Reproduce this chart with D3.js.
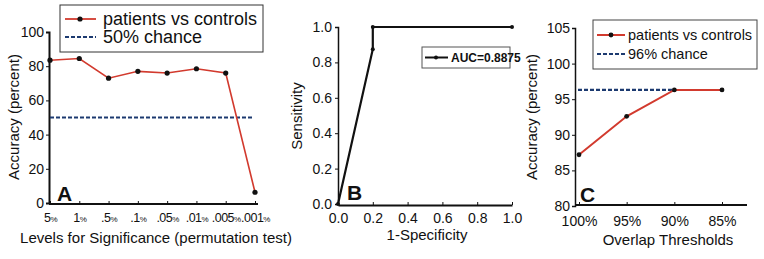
<!DOCTYPE html>
<html lang="en">
    <head>
        <meta charset="utf-8">
        <title>Accuracy / ROC / Overlap</title>
        <script src="https://d3js.org/d3.v7.min.js"></script>
        <style type="text/css">
            body { margin: 0; background: white; }
            text { font-family: "Liberation Sans", Arial, sans-serif; fill: #111; }
            .tick text { font-size: 14px; }
            .axis path, .axis line { stroke: #111; }
        </style>
    </head>
    <body>
        <svg width="764" height="259"></svg>
        <script type="text/javascript">

            // panel A
            const sigLevels = ["5", "1", ".5", ".1", ".05", ".01", ".005", ".001"];
            const sigAccuracy = [83.5, 84.5, 73, 77, 76, 78.5, 76, 6.3];
            const chanceA = 50;
            const ticksA = [0, 20, 40, 60, 80, 100];

            // panel B
            const rocFpr = [0, 0.2, 0.2, 1];
            const rocTpr = [0, 0.875, 1, 1];
            const ticksB = [0, 0.2, 0.4, 0.6, 0.8, 1.0];

            // panel C
            const overlap = ["100%", "95%", "90%", "85%"];
            const overlapAccuracy = [87.2, 92.6, 96.3, 96.3];
            const chanceC = 96.3;
            const ticksC = [80, 85, 90, 95, 100, 105];

            const red = "#d23a2e";
            const navy = "#1c3a70";
            const svg = d3.select("svg");

            // ---------- A ----------
            const gA = svg.append("g");
            const xA = d3.scalePoint().domain(sigLevels).range([50, 255]);
            const yA = d3.scaleLinear().domain([0, 100]).range([203, 32]);

            gA.append("g").attr("class", "axis")
                .attr("transform", "translate(49,0)")
                .call(d3.axisLeft(yA).tickValues(ticksA).tickSize(3).tickPadding(2))
                .call(g => g.select(".domain").attr("stroke-width", 2));

            const axA = gA.append("g").attr("class", "axis")
                .attr("transform", "translate(0,204)")
                .call(d3.axisBottom(xA).tickSize(-3).tickSizeOuter(0).tickPadding(8).tickFormat(""));
            axA.select(".domain").attr("d", "M49,0H258").attr("stroke-width", 2);
            axA.selectAll(".tick").append("text")
                .attr("y", 18).attr("text-anchor", "middle")
                .style("font-size", "12.5px").style("letter-spacing", "-0.5px")
                .each(function(d) {
                    const t = d3.select(this);
                    t.append("tspan").text(d);
                    t.append("tspan").style("font-size", "8px").text("%");
                });

            gA.append("line")
                .attr("x1", xA(sigLevels[0])).attr("x2", xA(sigLevels[7]) - 1)
                .attr("y1", yA(chanceA)).attr("y2", yA(chanceA))
                .attr("stroke", navy).attr("stroke-width", 2.2).attr("stroke-dasharray", "4,2");

            const lineA = d3.line().x((d, i) => xA(sigLevels[i])).y(d => yA(d));
            gA.append("path").datum(sigAccuracy)
                .attr("d", lineA).attr("fill", "none").attr("stroke", red).attr("stroke-width", 1.6);
            gA.selectAll(".dotA").data(sigAccuracy).enter().append("circle")
                .attr("cx", (d, i) => xA(sigLevels[i])).attr("cy", d => yA(d)).attr("r", 2.6).attr("fill", "#111");

            gA.append("rect").attr("x", 60).attr("y", 5).attr("width", 203).attr("height", 47)
                .attr("fill", "white").attr("stroke", "#333");
            gA.append("line").attr("x1", 65).attr("x2", 96).attr("y1", 19).attr("y2", 19)
                .attr("stroke", red).attr("stroke-width", 1.8);
            gA.append("circle").attr("cx", 80).attr("cy", 19).attr("r", 2.6).attr("fill", "#111");
            gA.append("text").attr("x", 103).attr("y", 25).style("font-size", "18px").text("patients vs controls");
            gA.append("line").attr("x1", 65).attr("x2", 96).attr("y1", 37).attr("y2", 37)
                .attr("stroke", navy).attr("stroke-width", 2.2).attr("stroke-dasharray", "4,2");
            gA.append("text").attr("x", 103).attr("y", 43).style("font-size", "18px").text("50% chance");

            gA.append("text").attr("x", 57).attr("y", 201).style("font-size", "21px").style("font-weight", "bold").text("A");
            gA.append("text").attr("x", 156).attr("y", 243).attr("text-anchor", "middle")
                .style("font-size", "15px").text("Levels for Significance (permutation test)");
            gA.append("text").attr("transform", "translate(19,117) rotate(-90)").attr("text-anchor", "middle")
                .style("font-size", "15px").text("Accuracy (percent)");

            // ---------- B ----------
            const gB = svg.append("g");
            const xB = d3.scaleLinear().domain([0, 1]).range([338, 512]);
            const yB = d3.scaleLinear().domain([0, 1]).range([204, 27]);

            gB.append("g").attr("class", "axis")
                .attr("transform", "translate(338,0)")
                .call(d3.axisLeft(yB).tickValues(ticksB).tickFormat(d3.format(".1f")).tickSize(3).tickPadding(3))
                .call(g => g.select(".domain").attr("stroke-width", 1.5));
            gB.append("g").attr("class", "axis")
                .attr("transform", "translate(0,205)")
                .call(d3.axisBottom(xB).tickValues(ticksB).tickFormat(d3.format(".1f")).tickSize(-3).tickSizeOuter(0).tickPadding(8))
                .call(g => g.select(".domain").attr("stroke-width", 2));

            const rocPts = rocFpr.map((d, i) => [d, rocTpr[i]]);
            gB.append("path").datum(rocPts)
                .attr("d", d3.line().x(d => xB(d[0])).y(d => yB(d[1])))
                .attr("fill", "none").attr("stroke", "#111").attr("stroke-width", 2.2);
            gB.selectAll(".dotB").data(rocPts).enter().append("circle")
                .attr("cx", d => xB(d[0])).attr("cy", d => yB(d[1])).attr("r", 2).attr("fill", "#111");

            gB.append("rect").attr("x", 422).attr("y", 47).attr("width", 88).attr("height", 21)
                .attr("fill", "white").attr("stroke", "#555");
            gB.append("line").attr("x1", 425).attr("x2", 448).attr("y1", 57.5).attr("y2", 57.5)
                .attr("stroke", "#111").attr("stroke-width", 2);
            gB.append("circle").attr("cx", 436).attr("cy", 57.5).attr("r", 2).attr("fill", "#111");
            gB.append("text").attr("x", 451).attr("y", 62)
                .style("font-family", "'Liberation Sans Narrow', 'Arial Narrow', sans-serif")
                .style("font-size", "12px").style("font-weight", "bold").text("AUC=0.8875");

            gB.append("text").attr("x", 347).attr("y", 200).style("font-size", "21px").style("font-weight", "bold").text("B");
            gB.append("text").attr("x", 427).attr("y", 240).attr("text-anchor", "middle")
                .style("font-size", "15px").text("1-Specificity");
            gB.append("text").attr("transform", "translate(302,116) rotate(-90)").attr("text-anchor", "middle")
                .style("font-size", "15px").text("Sensitivity");

            // ---------- C ----------
            const gC = svg.append("g");
            const xC = d3.scalePoint().domain(overlap).range([579, 722]);
            const yC = d3.scaleLinear().domain([80, 105]).range([206, 28]);

            gC.append("g").attr("class", "axis")
                .attr("transform", "translate(575,0)")
                .call(d3.axisLeft(yC).tickValues(ticksC).tickSize(3).tickPadding(2))
                .call(g => g.select(".domain").attr("stroke-width", 1.5));
            const axC = gC.append("g").attr("class", "axis")
                .attr("transform", "translate(0,205)")
                .call(d3.axisBottom(xC).tickSize(-3).tickSizeOuter(0).tickPadding(11));
            axC.select(".domain").attr("d", "M575,0H747").attr("stroke-width", 2);

            gC.append("line")
                .attr("x1", xC(overlap[0]) - 1).attr("x2", xC(overlap[2]))
                .attr("y1", yC(chanceC)).attr("y2", yC(chanceC))
                .attr("stroke", navy).attr("stroke-width", 2.2).attr("stroke-dasharray", "4,2");

            const lineC = d3.line().x((d, i) => xC(overlap[i])).y(d => yC(d));
            gC.append("path").datum(overlapAccuracy)
                .attr("d", lineC).attr("fill", "none").attr("stroke", red).attr("stroke-width", 2);
            gC.selectAll(".dotC").data(overlapAccuracy).enter().append("circle")
                .attr("cx", (d, i) => xC(overlap[i])).attr("cy", d => yC(d)).attr("r", 2.4).attr("fill", "#111");

            gC.append("rect").attr("x", 593).attr("y", 20).attr("width", 164).attr("height", 49)
                .attr("fill", "white").attr("stroke", "#444");
            gC.append("line").attr("x1", 597).attr("x2", 625).attr("y1", 35).attr("y2", 35)
                .attr("stroke", red).attr("stroke-width", 2);
            gC.append("circle").attr("cx", 611).attr("cy", 35).attr("r", 2.4).attr("fill", "#111");
            gC.append("text").attr("x", 628).attr("y", 40).style("font-size", "14.5px").text("patients vs controls");
            gC.append("line").attr("x1", 597).attr("x2", 625).attr("y1", 54).attr("y2", 54)
                .attr("stroke", navy).attr("stroke-width", 2.2).attr("stroke-dasharray", "4,2");
            gC.append("text").attr("x", 628).attr("y", 59).style("font-size", "14.5px").text("96% chance");

            gC.append("text").attr("x", 580).attr("y", 202).style("font-size", "21px").style("font-weight", "bold").text("C");
            gC.append("text").attr("x", 668).attr("y", 245).attr("text-anchor", "middle")
                .style("font-size", "15px").text("Overlap Thresholds");
            gC.append("text").attr("transform", "translate(537,117) rotate(-90)").attr("text-anchor", "middle")
                .style("font-size", "15px").text("Accuracy (percent)");

        </script>
    </body>
</html>
